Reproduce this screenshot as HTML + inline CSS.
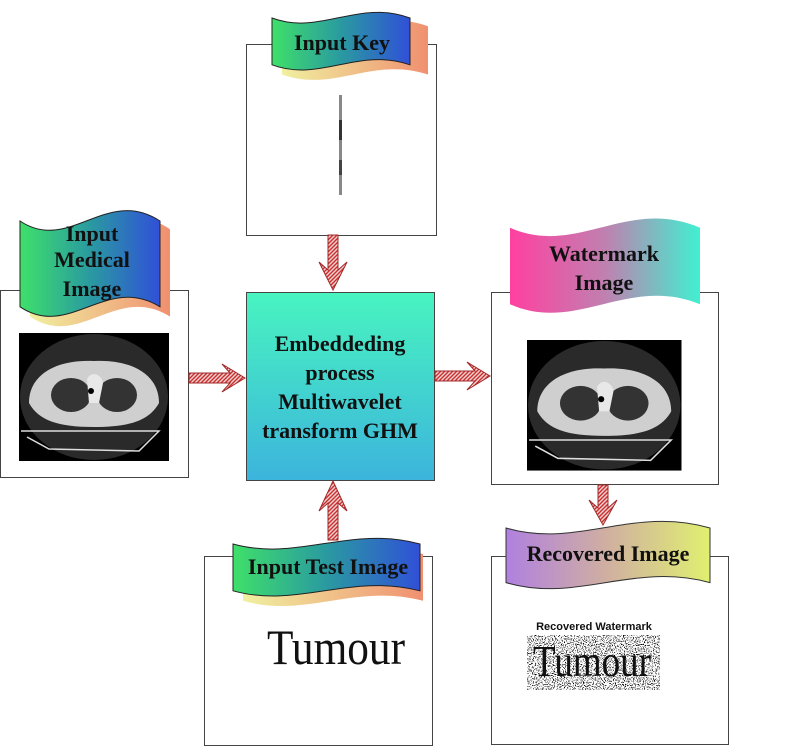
<!DOCTYPE html>
<html><head><meta charset="utf-8"><style>
html,body{margin:0;padding:0;background:#fff;}
svg{display:block;}
text{font-family:"Liberation Serif",serif;font-weight:bold;fill:#111;}
</style></head><body>
<svg width="787" height="746" viewBox="0 0 787 746" xmlns="http://www.w3.org/2000/svg">
<defs>
<linearGradient id="gb" x1="0" x2="1"><stop offset="0" stop-color="#3fe06a"/><stop offset="0.5" stop-color="#2a9aa0"/><stop offset="1" stop-color="#3050d8"/></linearGradient>
<linearGradient id="gs" x1="0" x2="1"><stop offset="0" stop-color="#f0f0a0"/><stop offset="1" stop-color="#f09070"/></linearGradient>
<linearGradient id="gw" x1="0" x2="1"><stop offset="0" stop-color="#ff40a0"/><stop offset="0.5" stop-color="#c080b0"/><stop offset="1" stop-color="#40f0d0"/></linearGradient>
<linearGradient id="gr" x1="0" x2="1"><stop offset="0" stop-color="#b080e0"/><stop offset="0.5" stop-color="#d0b0a0"/><stop offset="1" stop-color="#e0f070"/></linearGradient>
<linearGradient id="gc" x1="0" y1="0" x2="0" y2="1"><stop offset="0" stop-color="#48f4c0"/><stop offset="1" stop-color="#3cb4dc"/></linearGradient>
<pattern id="hat" width="4" height="4" patternUnits="userSpaceOnUse"><rect width="4" height="4" fill="#f4d0d0"/><path d="M0,4 L4,0 M-1,1 L1,-1 M3,5 L5,3" stroke="#c83030" stroke-width="1.4"/></pattern>
<filter id="noise" x="0" y="0" width="1" height="1"><feTurbulence type="fractalNoise" baseFrequency="0.9" numOctaves="1" seed="3"/><feColorMatrix type="matrix" values="0 0 0 0 0  0 0 0 0 0  0 0 0 0 0  0 0 0 -9 4.2"/></filter>
<path id="ban" d="M0,10 C35,40 62,-22 100,10 L100,88 C62,58 35,118 0,88 Z" vector-effect="non-scaling-stroke"/>
<g id="ct">
<rect x="0" y="0" width="150" height="128" fill="#000"/>
<ellipse cx="75" cy="64" rx="74" ry="63" fill="#2a2a2a"/>
<path d="M10,70 C10,40 40,26 75,28 C110,26 140,40 140,70 C130,88 110,94 75,94 C40,94 20,88 10,70 Z" fill="#cfcfcf"/>
<ellipse cx="52" cy="62" rx="20" ry="17" fill="#333"/>
<ellipse cx="98" cy="62" rx="20" ry="17" fill="#333"/>
<path d="M68,46 C72,38 82,40 84,50 L80,70 L70,70 Z" fill="#e8e8e8"/>
<circle cx="72" cy="58" r="3" fill="#000"/>
<path d="M2,98 L140,98 L120,118 L30,116 L8,104" fill="none" stroke="#ddd" stroke-width="1.5"/>
</g>
</defs>

<rect x="246.5" y="44.5" width="190" height="191" fill="#fff" stroke="#444"/>
<rect x="339" y="95" width="3" height="100" fill="#888"/>
<rect x="339" y="120" width="3" height="20" fill="#333"/>
<rect x="339" y="160" width="3" height="15" fill="#444"/>
<use href="#ban" transform="translate(282,20) scale(1.46,0.62)" fill="url(#gs)"/>
<use href="#ban" transform="translate(272,12) scale(1.38,0.6)" fill="url(#gb)" stroke="#222" stroke-width="1"/>
<text x="342" y="50" font-size="22" text-anchor="middle">Input Key</text>

<rect x="0.5" y="290.5" width="188" height="187" fill="#fff" stroke="#444"/>
<use href="#ct" transform="translate(19,333)"/>
<use href="#ban" transform="translate(30,218) scale(1.4,1.12)" fill="url(#gs)"/>
<use href="#ban" transform="translate(20,210) scale(1.4,1.1)" fill="url(#gb)" stroke="#222" stroke-width="1"/>
<text x="92" y="241" font-size="22" text-anchor="middle">Input</text>
<text x="92" y="267" font-size="22" text-anchor="middle">Medical</text>
<text x="92" y="296" font-size="22" text-anchor="middle">Image</text>

<rect x="246.5" y="292.5" width="188" height="188" fill="url(#gc)" stroke="#444"/>
<text x="340" y="351" font-size="22" text-anchor="middle">Embeddeding</text>
<text x="340" y="380" font-size="22" text-anchor="middle">process</text>
<text x="340" y="409" font-size="22" text-anchor="middle">Multiwavelet</text>
<text x="340" y="438" font-size="22" text-anchor="middle">transform GHM</text>

<rect x="491.5" y="292.5" width="227" height="192" fill="#fff" stroke="#444"/>
<use href="#ct" transform="translate(527,340) scale(1.03,1.02)"/>
<use href="#ban" transform="translate(510,218) scale(1.9,0.98)" fill="url(#gw)"/>
<text x="604" y="261" font-size="22" text-anchor="middle">Watermark</text>
<text x="604" y="290" font-size="22" text-anchor="middle">Image</text>

<rect x="204.5" y="556.5" width="228" height="189" fill="#fff" stroke="#444"/>
<use href="#ban" transform="translate(243,548) scale(1.8,0.6)" fill="url(#gs)"/>
<use href="#ban" transform="translate(233,538) scale(1.87,0.6)" fill="url(#gb)" stroke="#222" stroke-width="1"/>
<text x="328" y="574" font-size="22" text-anchor="middle">Input Test Image</text>
<text x="336" y="664" font-size="50" style="font-weight:normal" text-anchor="middle" textLength="138" lengthAdjust="spacingAndGlyphs">Tumour</text>

<rect x="491.5" y="556.5" width="237" height="188" fill="#fff" stroke="#444"/>
<use href="#ban" transform="translate(506,521) scale(2.04,0.7)" fill="url(#gr)" stroke="#333" stroke-width="1"/>
<text x="608" y="561" font-size="22" text-anchor="middle">Recovered Image</text>
<text x="594" y="630" font-size="11" text-anchor="middle" style="font-family:'Liberation Sans',sans-serif;font-weight:bold">Recovered Watermark</text>
<rect x="527" y="635" width="133" height="55" fill="#fff" filter="url(#noise)"/>
<text x="592" y="676" font-size="44" style="font-weight:normal" text-anchor="middle" textLength="118" lengthAdjust="spacingAndGlyphs">Tumour</text>

<path d="M189,373 L230,373 L222,364 L245,378 L222,392 L230,383 L189,383 Z" fill="url(#hat)" stroke="#a02828" stroke-width="1"/>
<path d="M435,371 L475,371 L467,362 L490,376 L467,390 L475,381 L435,381 Z" fill="url(#hat)" stroke="#a02828" stroke-width="1"/>
<path d="M328,235 L338,235 L338,270 L347,262 L333,290 L319,262 L328,270 Z" fill="url(#hat)" stroke="#a02828" stroke-width="1"/>
<path d="M328,540 L338,540 L338,503 L347,511 L333,481 L319,511 L328,503 Z" fill="url(#hat)" stroke="#a02828" stroke-width="1"/>
<path d="M598,485 L608,485 L608,508 L617,500 L603,525 L589,500 L598,508 Z" fill="url(#hat)" stroke="#a02828" stroke-width="1"/>
</svg>
</body></html>
